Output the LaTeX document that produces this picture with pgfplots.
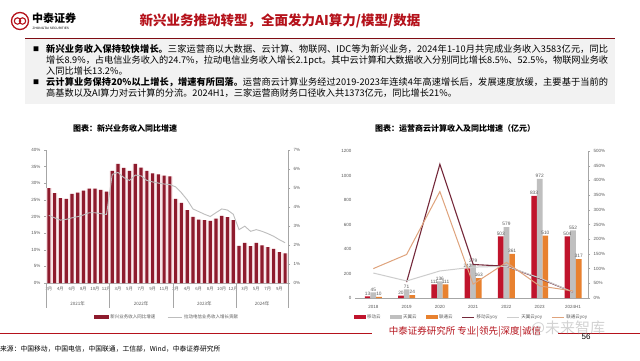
\documentclass[border=0pt]{standalone}
\usepackage{pgfplots}
\usepackage{pgfplotstable}
\pgfplotsset{compat=1.18}
\usepackage{fontspec}
\setmainfont{Noto Sans CJK SC}
\newfontfamily\lf{Liberation Sans}
\XeTeXlinebreaklocale "zh"
\XeTeXlinebreakskip = 0pt plus 1pt minus 0.25pt

\definecolor{barred}{HTML}{8E1B2D}
\definecolor{barpink}{HTML}{F7E3E6}
\definecolor{linegray}{HTML}{BDBDBD}
\definecolor{titlered}{HTML}{B5121B}
\definecolor{cmred}{HTML}{C0142C}
\definecolor{ctgray}{HTML}{BFBFBF}
\definecolor{cuorange}{HTML}{E8812F}
\definecolor{cmline}{HTML}{74283A}
\definecolor{ctline}{HTML}{CDCDCD}
\definecolor{culine}{HTML}{DFA37C}
\definecolor{boxgray}{HTML}{F2F2F2}
\definecolor{axgray}{HTML}{A6A6A6}
\definecolor{txtgray}{HTML}{595959}

\pgfplotsset{/pgf/number format/assume math mode=true}

\pgfplotstableread{
x y z
0 28.5 3.56
1 27.0 3.43
2 25.5 3.31
3 25.3 3.35
4 26.8 3.43
5 27.2 3.49
6 27.8 3.58
7 28.4 3.70
8 28.4 3.70
9 28.0 3.65
10 27.5 3.61
11 33.7 5.72
12 35.8 5.82
13 34.6 5.55
14 33.7 5.40
15 35.8 5.68
16 34.7 5.64
17 33.7 5.40
18 33.0 5.32
19 32.7 5.26
20 32.3 5.21
21 32.1 5.18
22 25.3 5.06
23 24.1 4.75
24 21.9 4.38
25 19.9 3.90
26 19.1 3.76
27 18.9 3.62
28 18.7 3.50
29 19.4 3.70
30 20.2 3.90
31 19.8 3.84
32 18.9 3.62
33 11.2 2.81
34 12.1 2.99
35 11.1 2.72
36 12.1 2.81
37 11.3 2.72
38 10.8 2.60
39 10.3 2.46
40 9.3 2.28
41 8.9 2.12
}\leftdata

\pgfplotstableread{
x m t u mg tg ug
0 13 45 10 nan 85 100
1 20 71 24 54 58 148
2 111 136 111 455 92 362
3 242 279 163 114 105 47
4 503 579 361 108 108 121
5 833 972 510 66 68 41
6 504 552 317 20 20 24
}\rightdata

\begin{document}
\begin{tikzpicture}
\fill[white] (0pt,0pt) rectangle (640pt,-360pt);

% ---------- header and text ----------
\begin{scope}[x=1pt,y=-1pt]
  \draw[titlered, line width=1.3pt] (20,21) circle (8.5);
  \draw[titlered, line width=1.1pt] (17.5,21) circle (3.2);
  \draw[titlered, line width=1.1pt] (22.5,21) circle (3.2);
  \node[anchor=west, font=\bfseries\fontsize{11}{12}\selectfont, inner sep=0] at (32,18.5) {中泰证券};
  \node[anchor=west, font=\lf\fontsize{3.2}{4}\selectfont, inner sep=0] at (32.5,28) {ZHONGTAI SECURITIES};
  \node[text=titlered, font=\bfseries\fontsize{13.5}{15}\selectfont] at (280,21) {新兴业务推动转型，全面发力AI算力/模型/数据};
  \fill[boxgray] (25,39) rectangle (615,104);
  \draw[titlered!70!black, line width=0.8pt] (25,38.5) -- (615,38.5);
  \node[font=\fontsize{6}{7}\selectfont] at (36,49) {■};
  \node[font=\fontsize{6}{7}\selectfont] at (36,82) {■};
  \node[anchor=north west, inner sep=0, text width=562pt, align=justify,
        font=\fontsize{9.2}{11.3}\selectfont] at (46,44.2)
   {\textbf{新兴业务收入保持较快增长。}三家运营商以大数据、云计算、物联网、IDC等为新兴业务，2024年1-10月共完成业务收入3583亿元，同比\linebreak 增长8.9\%，占电信业务收入的24.7\%，拉动电信业务收入增长2.1pct。其中云计算和大数据收入分别同比增长8.5\%、52.5\%，物联网业务收\linebreak 入同比增长13.2\%。};
  \node[anchor=north west, inner sep=0, text width=562pt, align=justify,
        font=\fontsize{9.2}{11.3}\selectfont] at (46,77.2)
   {\textbf{云计算业务保持20\%以上增长，增速有所回落。}运营商云计算业务经过2019-2023年连续4年高速增长后，发展速度放缓，主要基于当前的\linebreak 高基数以及AI算力对云计算的分流。2024H1，三家运营商财务口径收入共1373亿元，同比增长21\%。};
  \node[font=\bfseries\fontsize{8}{9}\selectfont] at (125,128) {图表：新兴业务收入同比增速};
  \node[font=\bfseries\fontsize{8}{9}\selectfont] at (455,128) {图表：运营商云计算收入及同比增速（亿元）};
  % footer
  \draw[titlered, line width=1pt] (0,333) -- (372,333);
  \draw[titlered, line width=1pt] (558,333) -- (640,333);
  \node[text=titlered, font=\fontsize{9.5}{10}\selectfont] at (465,332) {中泰证券研究所 专业|领先|深度|诚信};
  \node[font=\lf\fontsize{8}{9}\selectfont] at (586,337) {56};
  \node[anchor=west, font=\fontsize{6.8}{8}\selectfont, inner sep=0] at (0,349) {来源：中国移动，中国电信，中国联通，工信部，Wind，中泰证券研究所};
  \node[text=gray, opacity=0.35, font=\fontsize{15}{16}\selectfont] at (568,328) {@未来智库};
\end{scope}

% ---------- left chart: bars ----------
\begin{axis}[
  at={(46pt,-283pt)}, anchor=south west,
  scale only axis, width=242pt, height=133pt,
  xmin=-0.5, xmax=41.5, ymin=0, ymax=40,
  axis y line*=left, axis x line*=bottom,
  axis line style={axgray, line width=0.4pt},
  ytick={0,5,...,40}, yticklabel={\pgfmathprintnumber{\tick}\%},
  xtick={0,2,...,40},
  xticklabels={2月,4月,6月,8月,10月,12月,3月,5月,7月,9月,11月,2月,4月,6月,8月,10月,12月,3月,5月,7月,9月},
  tick align=outside, major tick length=2pt,
  tick style={axgray, line width=0.4pt},
  x tick style={draw=none},
  tick label style={font=\lf\fontsize{4.5}{5}\selectfont, text=txtgray},
  xticklabel style={font=\fontsize{4.3}{5}\selectfont, text=txtgray, yshift=1pt},
  clip=false,
]
\addplot[ybar, bar width=0.92, bar shift=0pt, fill=barpink, draw=none] table[x=x,y=y] \leftdata;
\addplot[ybar, bar width=0.55, bar shift=0pt, fill=barred, draw=none] table[x=x,y=y] \leftdata;
\pgfplotsinvokeforeach{-0.5,10.5,21.5,32.5,41.5}{
  \draw[axgray, line width=0.4pt] (axis cs:#1,0) -- ++(0pt,-25pt);
}
\node[font=\fontsize{4.5}{5}\selectfont, text=txtgray] at (axis cs:5,0) [yshift=-21pt] {2021年};
\node[font=\fontsize{4.5}{5}\selectfont, text=txtgray] at (axis cs:16,0) [yshift=-21pt] {2022年};
\node[font=\fontsize{4.5}{5}\selectfont, text=txtgray] at (axis cs:27,0) [yshift=-21pt] {2023年};
\node[font=\fontsize{4.5}{5}\selectfont, text=txtgray] at (axis cs:37,0) [yshift=-21pt] {2024年};
\end{axis}

% ---------- left chart: line ----------
\begin{axis}[
  at={(46pt,-283pt)}, anchor=south west,
  scale only axis, width=242pt, height=133pt,
  xmin=-0.5, xmax=41.5, ymin=0, ymax=7,
  axis y line*=right, axis x line=none,
  axis line style={axgray, line width=0.4pt},
  ytick={0,1,...,7}, yticklabel={\pgfmathprintnumber{\tick}\%},
  tick align=outside, major tick length=2pt,
  tick style={axgray, line width=0.4pt},
  tick label style={font=\lf\fontsize{4.5}{5}\selectfont, text=txtgray},
  legend style={at={(0.5,-0.255)}, anchor=center, draw=none, fill=none,
    legend columns=2, font=\fontsize{4.5}{5}\selectfont, text=txtgray,
    /tikz/every even column/.append style={column sep=10pt}},
]
\addlegendimage{legend image code/.code={\fill[barred] (0pt,-1.5pt) rectangle (14pt,1.5pt);}}
\addlegendentry{新兴业务收入同比增速}
\addplot[linegray, line width=0.9pt, legend image code/.code={\draw[linegray, line width=0.8pt] (0pt,0pt) -- (14pt,0pt);}] table[x=x,y=z] \leftdata;
\addlegendentry{拉动电信业务收入增长贡献}
\end{axis}

% ---------- right chart: bars ----------
\begin{axis}[
  at={(355pt,-298pt)}, anchor=south west,
  scale only axis, width=233pt, height=147pt,
  xmin=-0.55, xmax=6.45, ymin=0, ymax=1200,
  axis y line*=left, axis x line*=bottom,
  axis line style={axgray, line width=0.4pt},
  y axis line style={draw=none},
  ytick={0,200,...,1200},
  /pgf/number format/1000 sep={},
  xtick={0,...,6}, xticklabels={2018,2019,2020,2021,2022,2023,2024H1},
  tick style={draw=none},
  tick label style={font=\lf\fontsize{4.5}{5}\selectfont, text=txtgray},
  ybar=0pt, bar width=0.17,
  nodes near coords,
  nodes near coords style={font=\lf\fontsize{4.8}{5}\selectfont, text=txtgray, inner sep=1pt},
  clip=false,
]
\addplot[fill=cmred, draw=none] table[x=x,y=m] \rightdata;
\addplot[fill=ctgray, draw=none] table[x=x,y=t] \rightdata;
\addplot[fill=cuorange, draw=none] table[x=x,y=u] \rightdata;
\end{axis}

% ---------- right chart: growth lines ----------
\begin{axis}[
  at={(355pt,-298pt)}, anchor=south west,
  scale only axis, width=233pt, height=147pt,
  xmin=-0.55, xmax=6.45, ymin=0, ymax=500,
  axis y line*=right, axis x line=none,
  axis line style={axgray, line width=0.4pt},
  ytick={0,50,...,500}, yticklabel={\pgfmathprintnumber{\tick}\%},
  tick align=outside, major tick length=2pt,
  tick style={axgray, line width=0.4pt},
  tick label style={font=\lf\fontsize{4.5}{5}\selectfont, text=txtgray},
  legend style={at={(0.5,-0.13)}, anchor=center, draw=none, fill=none,
    legend columns=6, font=\fontsize{4.5}{5}\selectfont, text=txtgray,
    /tikz/every even column/.append style={column sep=7pt}},
]
\addlegendimage{legend image code/.code={\fill[cmred] (0pt,-1.5pt) rectangle (11pt,1.5pt);}}
\addlegendentry{移动云}
\addlegendimage{legend image code/.code={\fill[ctgray] (0pt,-1.5pt) rectangle (11pt,1.5pt);}}
\addlegendentry{天翼云}
\addlegendimage{legend image code/.code={\fill[cuorange] (0pt,-1.5pt) rectangle (11pt,1.5pt);}}
\addlegendentry{联通云}
\addplot[cmline, line width=1.1pt, legend image code/.code={\draw[cmline, line width=1pt] (0pt,0pt) -- (12pt,0pt);}] table[x=x,y=mg] \rightdata;
\addlegendentry{移动云yoy}
\addplot[ctline, line width=1pt, legend image code/.code={\draw[ctline, line width=1pt] (0pt,0pt) -- (12pt,0pt);}] table[x=x,y=tg] \rightdata;
\addlegendentry{天翼云yoy}
\addplot[culine, line width=1pt, legend image code/.code={\draw[culine, line width=1pt] (0pt,0pt) -- (12pt,0pt);}] table[x=x,y=ug] \rightdata;
\addlegendentry{联通云yoy}
\end{axis}

\pgfresetboundingbox
\path[use as bounding box] (0pt,0pt) rectangle (640pt,-360pt);
\end{tikzpicture}
\end{document}
